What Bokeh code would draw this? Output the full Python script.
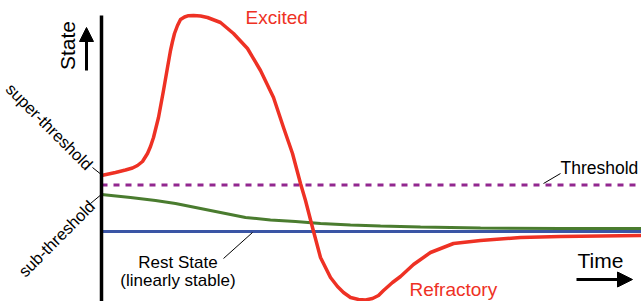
import numpy as np
from bokeh.plotting import figure
from bokeh.models import Range1d, Arrow, NormalHead
from bokeh.embed import file_html
from bokeh.resources import INLINE
from bokeh.core.properties import value

# ---- data (time from the axis, state relative to the rest level) ----
excited_t = [0, 14, 24, 31, 36, 41, 46, 49, 52, 57, 62, 66, 69, 71, 73, 76, 79, 83, 87,
             92, 99, 106, 119, 132, 146, 159, 172, 182, 191, 199, 204, 211, 219, 229,
             236, 242, 249, 257, 264, 271, 277, 282, 291, 299, 312, 329, 352, 379,
             419, 459, 540]
excited_s = [56, 59, 61.5, 63.5, 66, 70, 78, 85, 94, 114, 141, 164, 181, 190, 198, 206,
             212, 214.5, 215.8, 216, 215.5, 214, 209, 198, 183, 161, 134, 104, 78, 48,
             31, 4, -26, -46, -55, -61, -66, -68, -68.5, -67, -64, -59, -51, -45, -33,
             -21, -12, -9, -6, -5, -4]

sub_t = [0, 29, 54, 74, 94, 119, 144, 169, 194, 219, 249, 279, 319, 379, 459, 540]
sub_s = [37, 34, 31, 28, 24, 19, 14, 11.5, 10, 8, 6.5, 5.5, 4.5, 3.5, 3, 3]

rest_t = [0, 540]
rest_s = [0, 0]

threshold_t = [0, 540]
threshold_s = [46.5, 46.5]

axis_t = [0, 0]
axis_s = [216, -75]

labels_text = ["Excited", "Refractory", "Threshold"]

FONT = value("Liberation Sans")
RED = "#ee3124"
GREEN = "#4a7c2f"
BLUE = "#3a55a5"
PURPLE = "#92278f"

p = figure(width=641, height=301, x_range=Range1d(-101, 540), y_range=Range1d(-70, 231),
           output_backend="svg", toolbar_location=None, min_border=0,
           x_axis_type=None, y_axis_type=None)
p.grid.visible = False
p.outline_line_color = None
p.background_fill_color = "white"

# curves
p.line(threshold_t, threshold_s, line_color=PURPLE, line_width=3, line_dash="6 6")
p.line(rest_t, rest_s, line_color=BLUE, line_width=3)
p.line(sub_t, sub_s, line_color=GREEN, line_width=3)
p.line(excited_t, excited_s, line_color=RED, line_width=3.5, line_join="round")

# vertical axis
p.line(axis_t, axis_s, line_color="black", line_width=3.5)

# arrows
p.add_layout(Arrow(end=NormalHead(size=14, fill_color="black", line_color="black"),
                   x_start=-15, y_start=161, x_end=-15, y_end=204,
                   line_width=3, line_color="black"))
p.add_layout(Arrow(end=NormalHead(size=15, fill_color="black", line_color="black"),
                   x_start=475, y_start=-48, x_end=531, y_end=-48,
                   line_width=3, line_color="black"))

# leader lines
p.segment(x0=[-9, -11, 122, 442], y0=[64, 28, -27, 48],
          x1=[1, 1, 151, 459], y1=[56, 38, -1, 58],
          line_color="black", line_width=1)

# texts
p.text(x=[-34], y=[186], text=["State"], angle=np.pi / 2, text_align="center",
       text_baseline="middle", text_font=FONT, text_font_size="21px", text_color="black")
p.text(x=[476], y=[-28.5], text=["Time"], text_align="left", text_baseline="middle",
       text_font=FONT, text_font_size="21px", text_color="black")
p.text(x=[144], y=[214], text=[labels_text[0]], text_align="left", text_baseline="middle",
       text_font=FONT, text_font_size="19px", text_color=RED)
p.text(x=[308], y=[-58], text=[labels_text[1]], text_align="left", text_baseline="middle",
       text_font=FONT, text_font_size="19px", text_color=RED)
p.text(x=[459], y=[63.5], text=[labels_text[2]], text_align="left", text_baseline="middle",
       text_font=FONT, text_font_size="17.5px", text_color="black")
p.text(x=[76.5, 76.5], y=[-30.5, -49], text=["Rest State", "(linearly stable)"], text_align="center",
       text_baseline="middle", text_font=FONT, text_font_size="17px", text_color="black")
p.text(x=[-52], y=[105], text=["super-threshold"], angle=-np.pi / 4, text_align="center",
       text_baseline="middle", text_font=FONT, text_font_size="16.5px", text_color="black")
p.text(x=[-45], y=[-7], text=["sub-threshold"], angle=np.pi / 4, text_align="center",
       text_baseline="middle", text_font=FONT, text_font_size="16.5px", text_color="black")

open("out.html", "w").write(file_html(p, INLINE))
